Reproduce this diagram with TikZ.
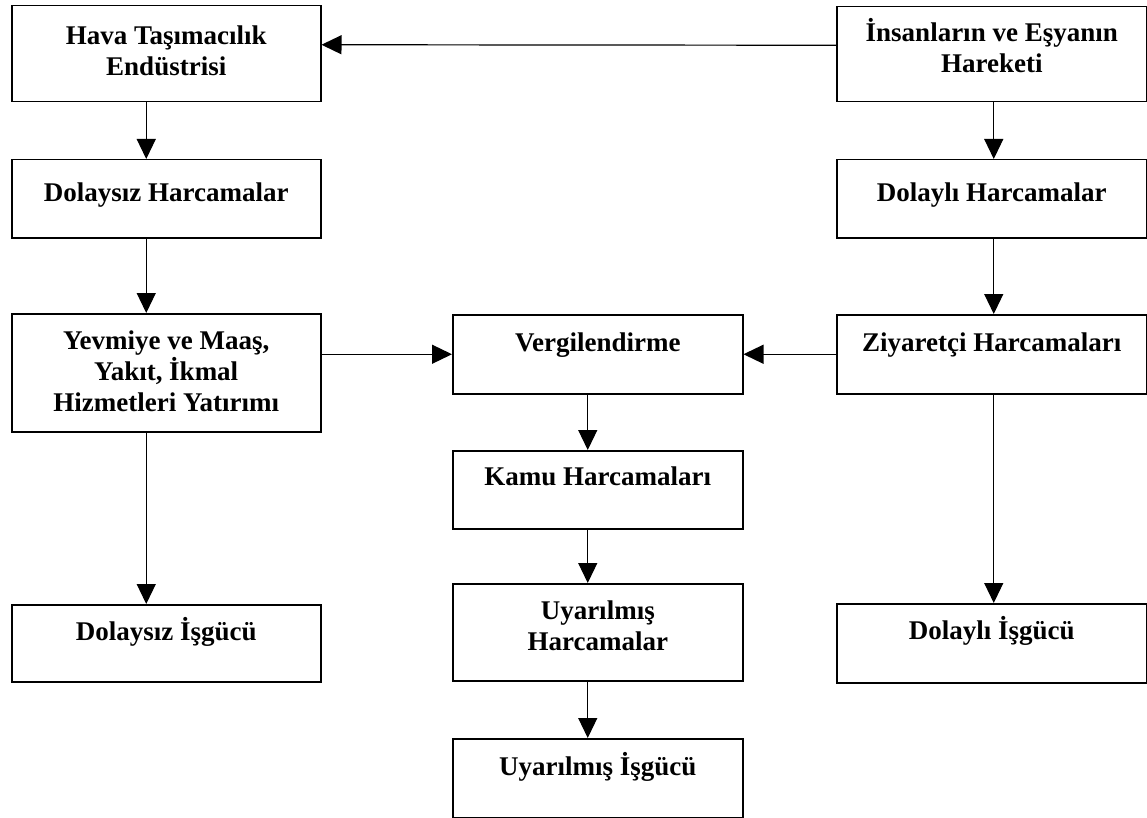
\documentclass[tikz,border=0pt]{standalone}
\usepackage{fontspec}
\setmainfont{Liberation Serif}
\usetikzlibrary{arrows.meta}
\begin{document}
\begin{tikzpicture}[x=1pt,y=-1pt,
  box/.style={draw=black,line width=1.5pt,anchor=north west,inner sep=0pt},
  lbl/.style={anchor=base,align=center,inner sep=0pt,
    font=\fontsize{27}{31}\selectfont\bfseries},
  arr/.style={line width=1.2pt,-{Triangle[length=20pt,width=19pt]}}]
\useasboundingbox (0,0) rectangle (1147,818);
% boxes: top-left corner, width, height
\node[box,minimum width=309pt,minimum height=96pt] (hava)   at (11,5)    {};
\node[box,minimum width=310pt,minimum height=95pt] (insan)  at (836,6)   {};
\node[box,minimum width=309pt,minimum height=78pt] (dolh)   at (11,159)  {};
\node[box,minimum width=310pt,minimum height=78pt] (dolyh)  at (836,159) {};
\node[box,minimum width=309pt,minimum height=118pt] (yev)   at (11,313)  {};
\node[box,minimum width=290pt,minimum height=79pt] (verg)   at (452,314) {};
\node[box,minimum width=310pt,minimum height=79pt] (ziy)    at (836,314) {};
\node[box,minimum width=290pt,minimum height=78pt] (kamu)   at (452,450) {};
\node[box,minimum width=309pt,minimum height=77pt] (dolis)  at (11,604)  {};
\node[box,minimum width=290pt,minimum height=97pt] (uyh)    at (452,583) {};
\node[box,minimum width=310pt,minimum height=79pt] (dolyis) at (836,603) {};
\node[box,minimum width=290pt,minimum height=79pt] (uyis)   at (452,738) {};
% labels, placed by the baseline of their last line below the box top
\node[lbl] (havat)   at ([yshift=-71pt]hava.north)   {Hava Taşımacılık\\Endüstrisi};
\node[lbl] (insant)  at ([yshift=-67pt]insan.north)  {İnsanların ve Eşyanın\\Hareketi};
\node[lbl] (dolht)   at ([yshift=-43pt]dolh.north)   {Dolaysız Harcamalar};
\node[lbl] (dolyht)  at ([yshift=-43pt]dolyh.north)  {Dolaylı Harcamalar};
\node[lbl] (yevt)    at ([yshift=-98pt]yev.north)    {Yevmiye ve Maaş,\\Yakıt, İkmal\\Hizmetleri Yatırımı};
\node[lbl] (vergt)   at ([yshift=-37pt]verg.north)   {Vergilendirme};
\node[lbl] (ziyt)    at ([yshift=-37pt]ziy.north)    {Ziyaretçi Harcamaları};
\node[lbl] (kamut)   at ([yshift=-35pt]kamu.north)   {Kamu Harcamaları};
\node[lbl] (dolist)  at ([yshift=-36pt]dolis.north)  {Dolaysız İşgücü};
\node[lbl] (uyht)    at ([yshift=-67pt]uyh.north)    {Uyarılmış\\Harcamalar};
\node[lbl] (dolyist) at ([yshift=-36pt]dolyis.north) {Dolaylı İşgücü};
\node[lbl] (uyist)   at ([yshift=-37pt]uyis.north)   {Uyarılmış İşgücü};
% connectors
\draw[arr] ([yshift=9pt]insan.west) -- ([yshift=9pt]hava.east);
\draw[arr] ([xshift=-20pt]hava.south) -- ([xshift=-20pt]dolh.north);
\draw[arr] ([xshift=-20pt]dolh.south) -- ([xshift=-20pt]yev.north);
\draw[arr] ([xshift=-20pt]yev.south) -- ([xshift=-20pt]dolis.north);
\draw[arr] ([xshift=2pt]insan.south) -- ([xshift=2pt]dolyh.north);
\draw[arr] ([xshift=2pt]dolyh.south) -- ([xshift=2pt]ziy.north);
\draw[arr] ([xshift=2pt]ziy.south) -- ([xshift=2pt]dolyis.north);
\draw[arr] (yev.east |- verg.west) -- (verg.west);
\draw[arr] (ziy.west) -- (verg.east);
\draw[arr] ([xshift=-10pt]verg.south) -- ([xshift=-10pt]kamu.north);
\draw[arr] ([xshift=-10pt]kamu.south) -- ([xshift=-10pt]uyh.north);
\draw[arr] ([xshift=-10pt]uyh.south) -- ([xshift=-10pt]uyis.north);
\end{tikzpicture}
\end{document}
